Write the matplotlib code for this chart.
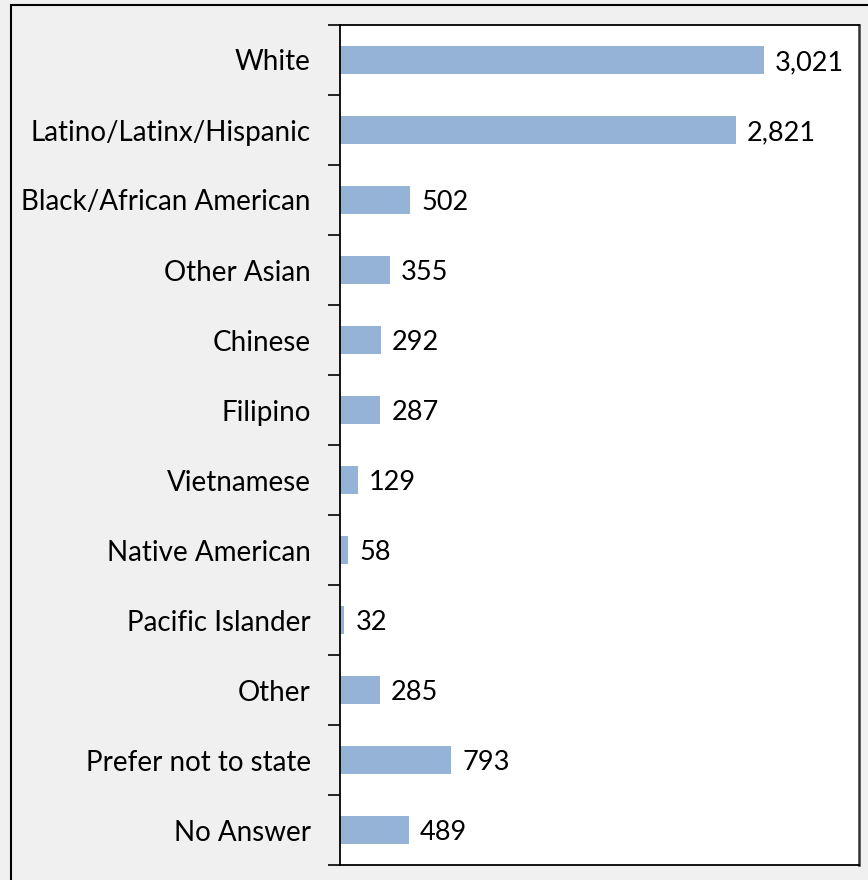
import numpy as np
import matplotlib.pyplot as plt
import matplotlib.patches as patches

categories = ["White", "Latino/Latinx/Hispanic", "Black/African American",
              "Other Asian", "Chinese", "Filipino", "Vietnamese",
              "Native American", "Pacific Islander", "Other",
              "Prefer not to state", "No Answer"]
counts = [3021, 2821, 502, 355, 292, 287, 129, 58, 32, 285, 793, 489]

plt.rcParams['font.family'] = ['Lato', 'DejaVu Sans']

W, H = 868, 880
fig = plt.figure(figsize=(W / 100, H / 100), dpi=100, facecolor="#f0f0f0")
ax = fig.add_axes([340 / W, 15 / H, 519 / W, 840 / H])
ax.set_facecolor("white")

y = np.arange(len(categories))
ax.barh(y, counts, height=0.39, color="#95b3d7")
for yi, c in zip(y, counts):
    ax.annotate(f"{c:,}", (c, yi), xytext=(8, -2), textcoords="offset points",
                ha="left", va="center", fontsize=19.5, color="black")

ax.set_xlim(0, 3700)
ax.set_ylim(len(categories) - 0.5, -0.5)
ax.set_xticks([])

# tick marks between categories, labels at the centres
ax.set_yticks(np.arange(len(categories) + 1) - 0.5)
ax.set_yticklabels([])
ax.tick_params(axis="y", which="major", length=9, width=1.2, direction="out")
ax.set_yticks(y, minor=True)
ax.set_yticklabels(categories, minor=True, fontsize=20)
ax.tick_params(axis="y", which="minor", length=0, pad=21)

for side in ["left", "bottom", "top"]:
    ax.spines[side].set_linewidth(1.3)
    ax.spines[side].set_color("black")
ax.spines["right"].set_linewidth(1.8)
ax.spines["right"].set_color("#333333")

# outer frame of the chart area
fig.patches.append(patches.Rectangle((11 / W, -0.1), 2, 1.1 - 5 / H,
                                     transform=fig.transFigure, fill=False,
                                     edgecolor="black", linewidth=1.5))

fig.savefig("out.png", dpi=100, facecolor=fig.get_facecolor())
